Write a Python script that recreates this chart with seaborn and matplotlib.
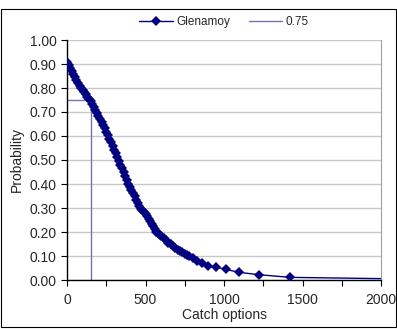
import numpy as np
import pandas as pd
import seaborn as sns
import matplotlib.pyplot as plt
from matplotlib.patches import Rectangle
from matplotlib.ticker import MultipleLocator, FormatStrFormatter

# 读取数据
catch = [0, 10, 20, 30, 40, 50, 60, 70, 80, 90, 100, 110, 120, 130, 140, 150,
         160, 170, 180, 190, 200, 210, 220, 230, 240, 250, 260, 270, 280, 290,
         300, 310, 320, 330, 340, 350, 360, 370, 380, 390, 400, 410, 420, 430,
         440, 450, 460, 470, 480, 490, 500, 510, 520, 530, 540, 550, 560, 570,
         580, 590, 600, 615, 630, 645, 660, 675, 690, 705, 720, 735, 750, 765,
         780, 800, 826, 862, 900, 949, 1013, 1096, 1223, 1422, 2300]
prob = [0.910, 0.897, 0.884, 0.871, 0.858, 0.845, 0.833, 0.820, 0.810, 0.800,
        0.791, 0.782, 0.773, 0.764, 0.756, 0.746, 0.734, 0.722, 0.709, 0.697,
        0.685, 0.672, 0.659, 0.646, 0.632, 0.618, 0.604, 0.589, 0.574, 0.559,
        0.543, 0.528, 0.512, 0.495, 0.480, 0.465, 0.450, 0.434, 0.418, 0.402,
        0.388, 0.375, 0.362, 0.348, 0.335, 0.321, 0.307, 0.297, 0.290, 0.283,
        0.275, 0.265, 0.255, 0.244, 0.234, 0.223, 0.212, 0.201, 0.195, 0.189,
        0.183, 0.174, 0.165, 0.156, 0.148, 0.140, 0.133, 0.127, 0.121, 0.115,
        0.110, 0.104, 0.098, 0.090, 0.079, 0.069, 0.060, 0.054, 0.044, 0.032,
        0.022, 0.011, 0.003]

ref_x = [0, 150, 150]
ref_y = [0.75, 0.75, 0.0]

data = pd.DataFrame({"catch": catch, "prob": prob})
ref = pd.DataFrame({"catch": ref_x, "prob": ref_y})

sns.set_style("white")
plt.rcParams['font.family'] = ['Liberation Sans', 'DejaVu Sans']

fig = plt.figure(figsize=(3.97, 3.29), dpi=100)
ax = fig.add_axes([67/397, 49/329, 314/397, 240/329])

# 外框
fig.patches.append(Rectangle((1/397, 2/329), 395/397, 318/329, transform=fig.transFigure,
                             fill=False, edgecolor='black', linewidth=0.8))

# 绘制曲线
sns.lineplot(x="catch", y="prob", data=data, ax=ax, sort=False, estimator=None,
             color='#000080', linewidth=1.0, marker='D', markersize=5.5,
             markeredgewidth=0, label='Glenamoy', zorder=3)
sns.lineplot(x="catch", y="prob", data=ref, ax=ax, sort=False, estimator=None,
             color='#7474b0', linewidth=1.0, label='0.75', zorder=2)

ax.set_xlim(0, 2000)
ax.set_ylim(0, 1.0)
ax.xaxis.set_major_locator(MultipleLocator(500))
ax.xaxis.set_minor_locator(MultipleLocator(250))
ax.yaxis.set_major_locator(MultipleLocator(0.1))
ax.yaxis.set_major_formatter(FormatStrFormatter('%.2f'))
ax.grid(axis='y', color='#c8c8c8', linewidth=1.0)
ax.set_axisbelow(True)

ax.spines['right'].set_color('#a0a0a0')
ax.spines['top'].set_visible(False)
for s in ['left', 'bottom']:
    ax.spines[s].set_color('black')
    ax.spines[s].set_linewidth(1.0)

ax.tick_params(axis='both', which='both', direction='out', color='black',
               length=4, width=0.8, labelsize=10, bottom=True, left=True)
ax.tick_params(axis='x', pad=5)

ax.set_xlabel('Catch options', fontsize=10, labelpad=1)
ax.set_ylabel('Probability', fontsize=10, labelpad=4)

ax.legend(loc='center', bbox_to_anchor=(224/397, 1 - 22/329), bbox_transform=fig.transFigure,
          ncol=2, frameon=False, fontsize=8.5, handlelength=2.8, columnspacing=1.6,
          handletextpad=0.3)

fig.savefig('out.png', dpi=100)
